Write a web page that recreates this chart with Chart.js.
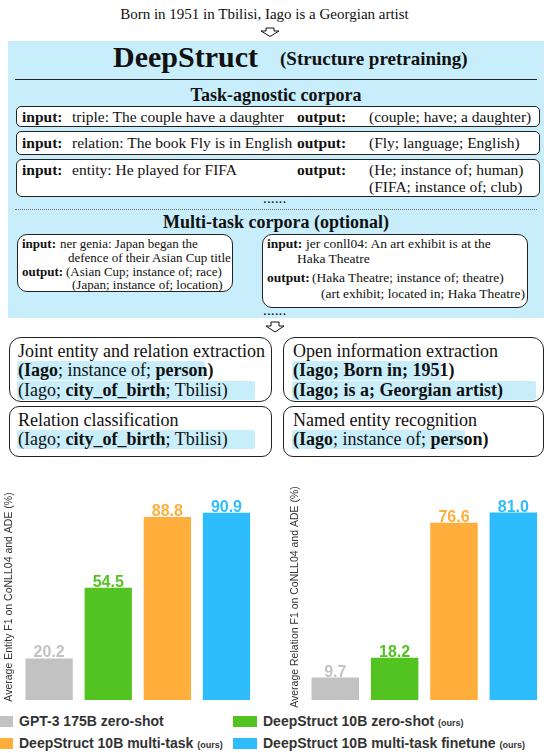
<!DOCTYPE html>
<html>
<head>
<meta charset="utf-8">
<script src="https://cdn.jsdelivr.net/npm/chart.js@4"></script>
<style>
  html, body { margin: 0; padding: 0; }
  body { width: 552px; height: 753px; position: relative; overflow: hidden; background: #fff; font-family: "Liberation Serif", serif; color: #111; }
  .t { position: absolute; white-space: nowrap; line-height: 1; }
  .b { font-weight: bold; }
  .box { position: absolute; background: #fff; border: 1px solid #222; box-sizing: border-box; }
  .hl { position: absolute; background: #c9eefb; border-radius: 2px; }
  .panel { position: absolute; left: 8px; top: 41px; width: 536px; height: 277px; background: #c9eefb; }
  .f16 { font-size: 15.5px; }
  .f13 { font-size: 13px; }
  .f135 { font-size: 13.5px; }
  .f18 { font-size: 18px; }
  .leg { position: absolute; font-family: "Liberation Sans", Arial, sans-serif; font-weight: bold; font-size: 14px; color: #333; white-space: nowrap; line-height: 1; }
  .leg small { font-size: 9px; }
  .sw { position: absolute; width: 24px; height: 11px; }
  .chartbox { position: absolute; top: 480px; height: 230px; }
</style>
</head>
<body>
<div class="t" style="left:0;width:529px;text-align:center;top:7px;font-size:15px;">Born in 1951 in Tbilisi, Iago is a Georgian artist</div>

<div class="panel"></div>
<div class="t b" style="left:113px;top:42px;font-size:30px;">DeepStruct</div>
<div class="t b" style="left:280px;top:49px;font-size:19px;">(Structure pretraining)</div>
<div style="position:absolute;left:15px;top:79px;width:522px;height:1px;background:#222;"></div>
<div class="t b f18" style="left:0;width:552px;text-align:center;top:86px;">Task-agnostic corpora</div>

<div class="box" style="left:16px;top:106px;width:524px;height:21px;border-radius:5px;"></div>
<div class="box" style="left:16px;top:131px;width:524px;height:24px;border-radius:5px;"></div>
<div class="box" style="left:16px;top:159px;width:524px;height:38px;border-radius:6px;"></div>
<div class="t b f16" style="left:22px;top:109px;">input:</div>
<div class="t f16" style="left:72px;top:109px;">triple: The couple have a daughter</div>
<div class="t b f16" style="left:297px;top:109px;">output:</div>
<div class="t f16" style="left:369px;top:109px;">(couple; have; a daughter)</div>
<div class="t b f16" style="left:22px;top:135px;">input:</div>
<div class="t f16" style="left:72px;top:135px;">relation: The book Fly is in English</div>
<div class="t b f16" style="left:297px;top:135px;">output:</div>
<div class="t f16" style="left:369px;top:135px;">(Fly; language; English)</div>
<div class="t b f16" style="left:22px;top:162px;">input:</div>
<div class="t f16" style="left:72px;top:162px;">entity: He played for FIFA</div>
<div class="t b f16" style="left:297px;top:162px;">output:</div>
<div class="t f16" style="left:369px;top:162px;">(He; instance of; human)</div>
<div class="t f16" style="left:369px;top:179px;">(FIFA; instance of; club)</div>
<div class="t f16" style="left:263px;top:190px;">......</div>
<div style="position:absolute;left:15px;top:209px;width:522px;height:0;border-top:1px dotted #666;"></div>
<div class="t b f18" style="left:0;width:552px;text-align:center;top:213px;">Multi-task corpora (optional)</div>

<div class="box" style="left:17px;top:234px;width:216px;height:58px;border-radius:10px;"></div>
<div class="box" style="left:262px;top:234px;width:266px;height:74px;border-radius:10px;"></div>
<div class="t b f13" style="left:22px;top:237px;">input:</div>
<div class="t f13" style="left:60px;top:237px;">ner genia: Japan began the</div>
<div class="t f13" style="left:68px;top:251px;">defence of their Asian Cup title</div>
<div class="t b f13" style="left:22px;top:265px;">output:</div>
<div class="t f13" style="left:66px;top:265px;">(Asian Cup; instance of; race)</div>
<div class="t f13" style="left:72px;top:278px;">(Japan; instance of; location)</div>
<div class="t b f135" style="left:267px;top:237px;">input:</div>
<div class="t f135" style="left:306px;top:237px;">jer conll04: An art exhibit is at the</div>
<div class="t f135" style="left:297px;top:252px;">Haka Theatre</div>
<div class="t b f135" style="left:267px;top:271px;">output:</div>
<div class="t f135" style="left:312px;top:271px;">(Haka Theatre; instance of; theatre)</div>
<div class="t f135" style="left:321px;top:287px;">(art exhibit; located in; Haka Theatre)</div>
<div class="t f16" style="left:263px;top:302px;">......</div>

<svg style="position:absolute;left:0;top:0;" width="552" height="460">
  <polygon points="266,28 274,28 274,31 279,31 270,36.5 261,31 266,31" fill="#fff" stroke="#111" stroke-width="1"/>
  <polygon points="271,322 279,322 279,326 284,326 275,332 266,326 271,326" fill="#fff" stroke="#111" stroke-width="1"/>
</svg>

<div class="box" style="left:9px;top:337px;width:263px;height:65px;border-radius:12px;"></div>
<div class="box" style="left:283px;top:337px;width:261px;height:65px;border-radius:12px;"></div>
<div class="box" style="left:9px;top:406px;width:263px;height:51px;border-radius:10px;"></div>
<div class="box" style="left:283px;top:406px;width:261px;height:51px;border-radius:10px;"></div>
<div class="hl" style="left:17px;top:361px;width:188px;height:19px;"></div>
<div class="hl" style="left:17px;top:381px;width:238px;height:19px;"></div>
<div class="hl" style="left:292px;top:361px;width:149px;height:19px;"></div>
<div class="hl" style="left:292px;top:381px;width:244px;height:19px;"></div>
<div class="hl" style="left:17px;top:430px;width:238px;height:19px;"></div>
<div class="hl" style="left:292px;top:430px;width:173px;height:19px;"></div>
<div class="t f18" style="left:18px;top:342px;">Joint entity and relation extraction</div>
<div class="t f18" style="left:18px;top:361px;"><b>(Iago</b>; instance of; <b>person)</b></div>
<div class="t f18" style="left:18px;top:381px;">(Iago; <b>city_of_birth</b>; Tbilisi)</div>
<div class="t f18" style="left:293px;top:342px;">Open information extraction</div>
<div class="t f18 b" style="left:293px;top:361px;">(Iago; Born in; 1951)</div>
<div class="t f18 b" style="left:293px;top:381px;">(Iago; is a; Georgian artist)</div>
<div class="t f18" style="left:18px;top:411px;">Relation classification</div>
<div class="t f18" style="left:18px;top:430px;">(Iago; <b>city_of_birth</b>; Tbilisi)</div>
<div class="t f18" style="left:293px;top:411px;">Named entity recognition</div>
<div class="t f18" style="left:293px;top:430px;"><b>(Iago</b>; instance of; <b>person)</b></div>

<div class="chartbox" style="left:0;width:256px;"><canvas id="entityChart"></canvas></div>
<div class="chartbox" style="left:286px;width:257px;"><canvas id="relationChart"></canvas></div>

<div id="legend"></div>

<script>
const models = ["GPT-3 175B zero-shot", "DeepStruct 10B zero-shot", "DeepStruct 10B multi-task", "DeepStruct 10B multi-task finetune"];
const ours = [false, true, true, true];
const entityF1 = [20.2, 54.5, 88.8, 90.9];
const relationF1 = [9.7, 18.2, 76.6, 81.0];
const barColors = ["#c2c2c2", "#53c322", "#ffad3b", "#2dbdfc"];

const valueLabels = {
  id: "valueLabels",
  afterDatasetsDraw(chart) {
    const ctx = chart.ctx;
    const meta = chart.getDatasetMeta(0);
    const values = chart.data.datasets[0].data;
    ctx.save();
    ctx.font = "bold 16px 'Liberation Sans', Arial, sans-serif";
    ctx.textAlign = "center";
    ctx.textBaseline = "alphabetic";
    meta.data.forEach((bar, i) => {
      ctx.fillStyle = barColors[i];
      ctx.fillText(values[i].toFixed(1), bar.x, bar.y - 1);
    });
    ctx.restore();
  },
};

function makeChart(id, values, yMax, title) {
  return new Chart(document.getElementById(id), {
    type: "bar",
    data: {
      labels: models,
      datasets: [{
        data: values,
        backgroundColor: barColors,
        borderWidth: 0,
        barPercentage: 0.8,
        categoryPercentage: 1.0,
      }],
    },
    options: {
      responsive: true,
      maintainAspectRatio: false,
      animation: false,
      layout: { padding: { left: 2, top: 14, bottom: 10, right: 0 } },
      plugins: { legend: { display: false }, tooltip: { enabled: false } },
      scales: {
        x: { display: false },
        y: {
          min: 0,
          max: yMax,
          ticks: { display: false },
          grid: { display: false, drawTicks: false },
          border: { display: false },
          title: {
            display: true,
            text: title,
            color: "#333",
            font: { family: "'Liberation Sans', Arial, sans-serif", size: 10.5 },
            padding: { top: 1, bottom: 4 },
          },
        },
      },
    },
    plugins: [valueLabels],
  });
}

makeChart("entityChart", entityF1, 100, "Average Entity F1 on CoNLL04 and ADE (%)");
makeChart("relationChart", relationF1, 89, "Average Relation F1 on CoNLL04 and ADE (%)");

// legend, 2 x 2
const legendPos = [[-11, 714], [233, 714], [-11, 736], [233, 736]];
const legend = document.getElementById("legend");
models.forEach((m, i) => {
  const [x, y] = legendPos[i];
  const sw = document.createElement("div");
  sw.className = "sw";
  sw.style.left = x + "px";
  sw.style.top = (y + 2) + "px";
  sw.style.background = barColors[i];
  legend.appendChild(sw);
  const lb = document.createElement("div");
  lb.className = "leg";
  lb.style.left = (x + 30) + "px";
  lb.style.top = y + "px";
  lb.innerHTML = m + (ours[i] ? " <small>(ours)</small>" : "");
  legend.appendChild(lb);
});
</script>
</body>
</html>
